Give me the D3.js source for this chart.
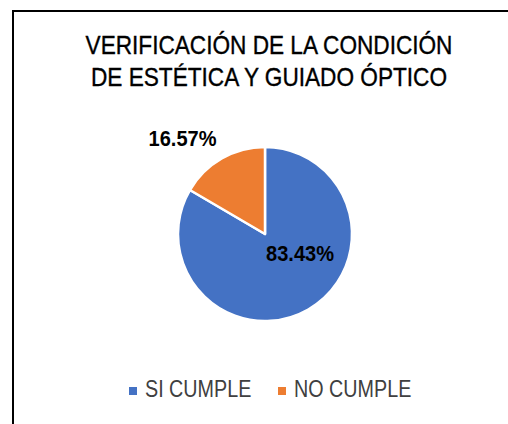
<!DOCTYPE html>
<html>
<head>
<meta charset="utf-8">
<script src="https://cdn.jsdelivr.net/npm/d3@7"></script>
<style>
  html, body { margin: 0; padding: 0; background: #fff; }
  svg { display: block; }
  text { font-family: "Liberation Sans", Arial, sans-serif; }
</style>
</head>
<body>
<svg id="chart" width="508" height="424"></svg>
<script>
// Chart data
const categories = ["SI CUMPLE", "NO CUMPLE"];
const values = [83.43, 16.57];
const colors = ["#4472C4", "#ED7D31"];
const titleLines = ["VERIFICACIÓN DE LA CONDICIÓN", "DE ESTÉTICA Y GUIADO ÓPTICO"];

const svg = d3.select("#chart");

// Places a horizontally condensed text label at (x, y)
function narrowText(parent, x, y, str, opts) {
  const g = parent.append("g")
    .attr("transform", `translate(${x},${y}) scale(${opts.squeeze},1)`);
  const t = g.append("text")
    .attr("text-anchor", opts.anchor || "start")
    .attr("font-size", opts.size)
    .attr("font-weight", opts.weight || "normal")
    .attr("fill", opts.fill || "#000")
    .text(str);
  if (opts.stroke) t.attr("stroke", opts.fill || "#000").attr("stroke-width", opts.stroke);
  return t;
}

// Chart frame (top and left edges visible)
svg.append("path")
  .attr("d", "M13,424 V11 H508")
  .attr("fill", "none")
  .attr("stroke", "#000")
  .attr("stroke-width", 2);

// Title
titleLines.forEach((line, i) => {
  narrowText(svg, 269, 54 + i * 32, line,
    { anchor: "middle", size: 25, squeeze: 0.905, stroke: 0.35 });
});

// Pie
const cx = 265, cy = 234, r = 87;
const pie = d3.pie().sort(null).value(d => d.value);
const arc = d3.arc().innerRadius(0).outerRadius(r);
const data = categories.map((c, i) => ({ name: c, value: values[i], color: colors[i] }));
const arcs = pie(data);

const g = svg.append("g").attr("transform", `translate(${cx},${cy})`);
g.selectAll("path.slice")
  .data(arcs)
  .join("path")
  .attr("class", "slice")
  .attr("d", arc)
  .attr("fill", d => d.data.color)
  .attr("stroke", "#fff")
  .attr("stroke-width", 2.5)
  .attr("stroke-linejoin", "round");

// Value labels
const fmt = v => v.toFixed(2) + "%";
const labelPos = [
  [35, 27],     // SI CUMPLE, inside the slice
  [-82.5, -88]  // NO CUMPLE, outside the slice
];
arcs.forEach((d, i) => {
  narrowText(g, labelPos[i][0], labelPos[i][1], fmt(d.data.value),
    { anchor: "middle", size: 22, weight: "bold", squeeze: 0.91 });
});

// Legend
const legendItems = [
  { name: categories[0], color: colors[0], x: 129 },
  { name: categories[1], color: colors[1], x: 278 }
];
legendItems.forEach(item => {
  svg.append("rect")
    .attr("x", item.x).attr("y", 387)
    .attr("width", 8).attr("height", 8)
    .attr("fill", item.color);
  narrowText(svg, item.x + 16, 397, item.name,
    { size: 23.5, fill: "#404040", squeeze: 0.84 });
});
</script>
</body>
</html>
